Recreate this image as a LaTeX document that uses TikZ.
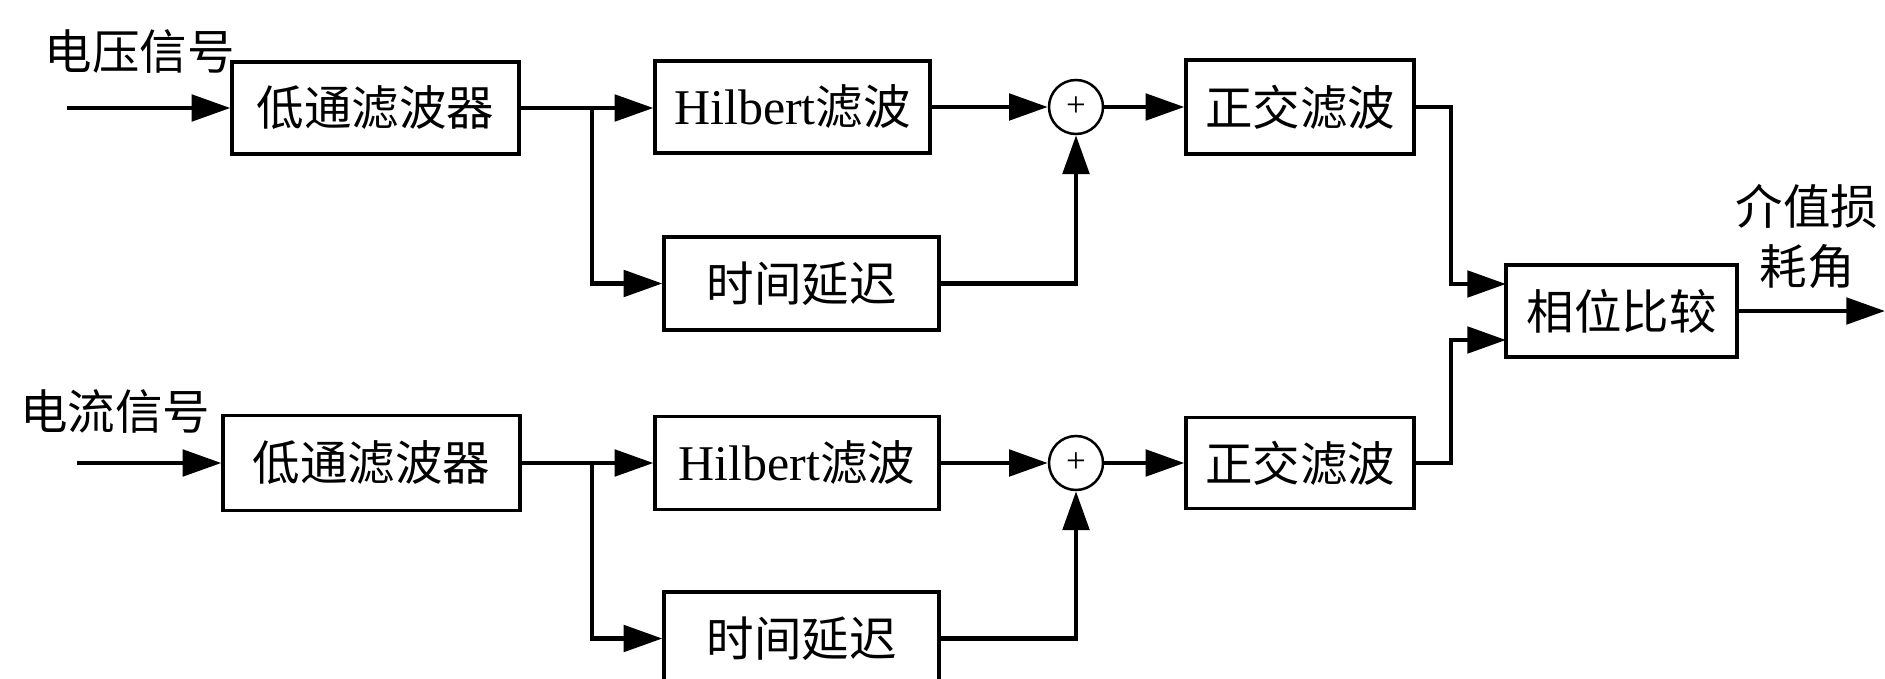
\documentclass[tikz,border=0pt]{standalone}
\usepackage{fontspec}
\setmainfont{Liberation Serif}
\newfontfamily\cjk{Noto Sans CJK SC}
\usetikzlibrary{arrows.meta}
\begin{document}
\begin{tikzpicture}[x=0.4pt,y=-0.4pt,
  blk/.style={draw,line width=1.3pt,inner sep=0pt,font=\cjk\fontsize{19}{22}\selectfont},
  con/.style={line width=1.8pt,-{Triangle[length=15.5pt,width=10.5pt]}},
  sumc/.style={draw,circle,line width=1pt,minimum size=21.6pt,inner sep=0pt,font=\rmfamily\fontsize{14}{14}\selectfont},
  lbl/.style={font=\cjk\fontsize{19}{24}\selectfont,inner sep=0pt,align=center}]
\clip (0,0) rectangle (1885,679);
\fill[white] (0,0) rectangle (1885,679);
% top channel
\node[blk,minimum width=114.8pt,minimum height=36.8pt] (lpf1) at (375.5,108) {低通滤波器};
\node[blk,minimum width=110pt,minimum height=36.8pt] (hil1) at (792.5,107) {{\rmfamily\fontsize{20}{22}\selectfont Hilbert}滤波};
\node[blk,minimum width=110pt,minimum height=37.2pt] (del1) at (801.5,283.5) {时间延迟};
\node[sumc] (sum1) at (1076,107) {+};
\node[blk,minimum width=91.2pt,minimum height=37.6pt] (ort1) at (1300,107) {正交滤波};
% bottom channel
\node[blk,minimum width=118.8pt,minimum height=38pt] (lpf2) at (371.5,463) {低通滤波器};
\node[blk,minimum width=113.6pt,minimum height=37.2pt] (hil2) at (797,463) {{\rmfamily\fontsize{20}{22}\selectfont Hilbert}滤波};
\node[blk,minimum width=110pt,minimum height=37.2pt] (del2) at (801.5,638.5) {时间延迟};
\node[sumc] (sum2) at (1076,463) {+};
\node[blk,minimum width=91.2pt,minimum height=36.4pt] (ort2) at (1300,463) {正交滤波};
% phase comparison
\node[blk,minimum width=92.4pt,minimum height=36.8pt] (phase) at (1621.5,311) {相位比较};
% labels
\node[lbl] (vlab) at (139.5,52) {电压信号};
\node[lbl] (ilab) at (115,411.5) {电流信号};
\node[lbl] (olab) at (1807,236) {介值损\\耗角};
% coordinates
\coordinate (in1) at (67,108);
\coordinate (in2) at (77,463);
\coordinate (br1) at (592,108);
\coordinate (br2) at (592,463);
\coordinate (k1) at (1451,284);
\coordinate (k2) at (1451,340);
\coordinate (pin1) at (1506,284);
\coordinate (pin2) at (1506,340);
\coordinate (out) at (1885,311);
% connectors top
\draw[con] (in1) -- (lpf1);
\draw[con] (lpf1.east |- br1) -- (hil1.west |- br1);
\draw[con] (br1) |- (del1);
\draw[con] (hil1) -- (sum1);
\draw[con] (del1) -| (sum1);
\draw[con] (sum1) -- (ort1);
\draw[con] (ort1) -| (k1) -- (pin1);
% connectors bottom
\draw[con] (in2) -- (lpf2);
\draw[con] (lpf2) -- (hil2);
\draw[con] (br2) |- (del2);
\draw[con] (hil2) -- (sum2);
\draw[con] (del2) -| (sum2);
\draw[con] (sum2) -- (ort2);
\draw[con] (ort2) -| (k2) -- (pin2);
% output
\draw[con] (phase) -- (out);
\end{tikzpicture}
\end{document}
